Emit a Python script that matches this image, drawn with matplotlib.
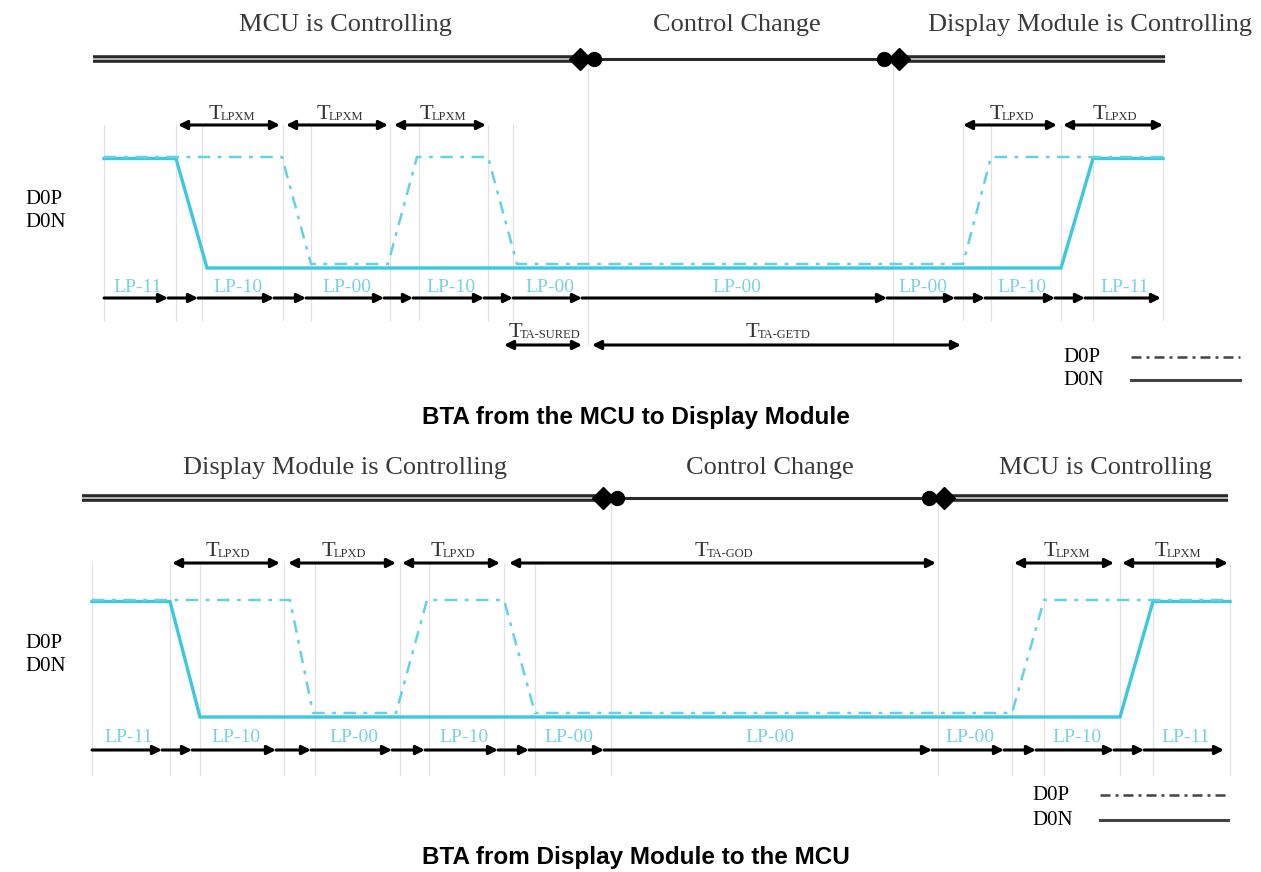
import matplotlib.pyplot as plt

# ---- top diagram: BTA from the MCU to Display Module ----
top_title = 'BTA from the MCU to Display Module'
top_headers = ['MCU is Controlling', 'Control Change', 'Display Module is Controlling']
top_header_x = [345, 737, 1090]
top_bar = [93, 588, 893, 1165]          # start, change begins, change ends, stop
top_d0p_t = [104, 282, 311, 388, 417, 488, 517, 963, 991, 1163]
top_d0p_v = [1, 1, 0, 0, 1, 1, 0, 0, 1, 1]
top_d0n_t = [104, 176, 207, 1061, 1093, 1163]
top_d0n_v = [1, 1, 0, 0, 1, 1]
top_guides = [104, 176, 202, 283, 311, 390, 419, 488, 513, 963, 991, 1061, 1093, 1163]
top_lp_start = [104, 198, 306, 413, 513, 582, 887, 985, 1085]
top_lp_end = [168, 274, 384, 484, 582, 887, 955, 1055, 1161]
top_lp_names = ['LP-11', 'LP-10', 'LP-00', 'LP-10', 'LP-00', 'LP-00', 'LP-00', 'LP-10', 'LP-11']
top_timer_names = ['LPXM', 'LPXM', 'LPXM', 'LPXD', 'LPXD']
top_timer_start = [178, 286, 394, 963, 1063]
top_timer_end = [280, 388, 486, 1057, 1163]
top_ta_names = ['TA-SURED', 'TA-GETD']
top_ta_start = [504, 592]
top_ta_end = [582, 961]

# ---- bottom diagram: BTA from Display Module to the MCU ----
bot_title = 'BTA from Display Module to the MCU'
bot_headers = ['Display Module is Controlling', 'Control Change', 'MCU is Controlling']
bot_header_x = [345, 770, 1105]
bot_bar = [82, 611, 938, 1228]
bot_d0p_t = [92, 290, 313, 396, 427, 504, 535, 1012, 1044, 1230]
bot_d0p_v = [1, 1, 0, 0, 1, 1, 0, 0, 1, 1]
bot_d0n_t = [92, 170, 200, 1120, 1153, 1230]
bot_d0n_v = [1, 1, 0, 0, 1, 1]
bot_guides = [92, 170, 200, 284, 315, 400, 429, 504, 535, 1012, 1044, 1120, 1153, 1230]
bot_lp_start = [92, 192, 311, 425, 529, 604, 932, 1036, 1144]
bot_lp_end = [162, 276, 392, 498, 604, 932, 1004, 1114, 1224]
bot_lp_names = ['LP-11', 'LP-10', 'LP-00', 'LP-10', 'LP-00', 'LP-00', 'LP-00', 'LP-10', 'LP-11']
bot_timer_names = ['LPXD', 'LPXD', 'LPXD', 'TA-GOD', 'LPXM', 'LPXM']
bot_timer_start = [172, 288, 402, 509, 1014, 1122]
bot_timer_end = [280, 396, 500, 936, 1114, 1228]

CYAN = '#3cc8de'
CYAN_P = '#63d2e3'
LP_COL = '#79d3df'
GUIDE = '#e2e2e2'
SERIF = 'Liberation Serif'

fig = plt.figure(figsize=(12.61, 8.72), dpi=100)
ax = fig.add_axes([0, 0, 1, 1])
ax.set_xlim(0, 1261)
ax.set_ylim(872, 0)
ax.axis('off')


def arrow(x0, x1, y, both=False):
    style = '<|-|>' if both else '-|>'
    ax.annotate('', xy=(x1, y), xytext=(x0, y),
                arrowprops=dict(arrowstyle=style, color='black', lw=2.2,
                                mutation_scale=13, shrinkA=0, shrinkB=0))


def timer_label(name, x, y):
    # big T followed by a small subscript
    tw, sw = 12, 7.2 * len(name)
    x0 = x - (tw + sw) / 2
    ax.text(x0, y, 'T', ha='left', va='baseline', fontsize=16, family=SERIF, color='#333333')
    ax.text(x0 + tw, y + 1, name, ha='left', va='baseline', fontsize=9, family=SERIF,
            color='#333333')


def draw_panel(lay, title, headers, header_x, bar, d0p_t, d0p_v, d0n_t, d0n_v,
               guides, lp_start, lp_end, lp_names, t_names, t_start, t_end):
    # guide lines
    for g in guides:
        ax.plot([g, g], [lay['t_arrow'], lay['guide_end']], color=GUIDE, lw=0.9, zorder=0)
    for g in bar[1:3]:
        ax.plot([g, g], [lay['bar'], lay['long_end']], color=GUIDE, lw=0.9, zorder=0)

    # control bar
    for x0, x1 in [(bar[0], bar[1] - 8), (bar[2] + 6, bar[3])]:
        ax.plot([x0, x1], [lay['bar']] * 2, color='#2a2a2a', lw=5.5, solid_capstyle='butt')
        ax.plot([x0, x1], [lay['bar']] * 2, color='#b5b5b5', lw=1.4, solid_capstyle='butt')
    ax.plot([bar[1], bar[2]], [lay['bar']] * 2, color='#2a2a2a', lw=2.2)
    ax.plot([bar[1] - 8], [lay['bar']], marker='D', ms=11, color='black')
    ax.plot([bar[1] + 6], [lay['bar']], marker='o', ms=10, color='black')
    ax.plot([bar[2] - 9], [lay['bar']], marker='o', ms=10, color='black')
    ax.plot([bar[2] + 6], [lay['bar']], marker='D', ms=11, color='black')
    for h, hx in zip(headers, header_x):
        ax.text(hx, lay['header'], h, ha='center', va='center', fontsize=19,
                family=SERIF, color='#3a3a3a')

    # waveforms
    yp = [lay['high'] if v else lay['low_p'] for v in d0p_v]
    yn = [lay['high'] + 1.5 if v else lay['low'] for v in d0n_v]
    ax.plot(d0n_t, yn, color=CYAN, lw=2.4, solid_joinstyle='miter')
    ax.plot(d0p_t, yp, color=CYAN_P, lw=1.8, linestyle=(0, (5, 3, 1.5, 3)))
    ax.text(25, lay['lbl_p'], 'D0P', ha='left', va='center', fontsize=15, family=SERIF)
    ax.text(25, lay['lbl_n'], 'D0N', ha='left', va='center', fontsize=15, family=SERIF)

    # LP state row
    prev = None
    for s, e, n in zip(lp_start, lp_end, lp_names):
        if prev is not None and s > prev:
            arrow(prev, s, lay['row'])
        arrow(s, e, lay['row'])
        ax.text((s + e) / 2 + 2, lay['lp'], n, ha='center', va='center', fontsize=14,
                family=SERIF, color=LP_COL)
        prev = e

    # timers
    for n, s, e in zip(t_names, t_start, t_end):
        arrow(s, e, lay['t_arrow'], both=True)
        timer_label(n, (s + e) / 2, lay['t_label'])

    # legend
    lx0, lx1 = lay['leg_x']
    ax.text(lx0, lay['leg_p'], 'D0P', ha='left', va='center', fontsize=15, family=SERIF)
    ax.text(lx0, lay['leg_n'], 'D0N', ha='left', va='center', fontsize=15, family=SERIF)
    ax.plot([lx0 + 68, lx1], [lay['leg_p']] * 2, color='#444444', lw=1.8,
            linestyle=(0, (4, 2, 1.2, 2)))
    ax.plot([lx0 + 68, lx1], [lay['leg_n']] * 2, color='#444444', lw=2.2)

    ax.text(636, lay['title'], title, ha='center', va='center', fontsize=17.5,
            fontweight='bold', family='Liberation Sans')


top_lay = dict(header=25, bar=59, t_label=119, t_arrow=125, high=157, low=268, low_p=264,
               lbl_p=199, lbl_n=222, lp=287, row=298, guide_end=320, long_end=345,
               leg_x=(1063, 1240), leg_p=357, leg_n=380, title=417)
bot_lay = dict(header=468, bar=498, t_label=556, t_arrow=563, high=600, low=717, low_p=713,
               lbl_p=643, lbl_n=666, lp=737, row=750, guide_end=775, long_end=775,
               leg_x=(1032, 1228), leg_p=795, leg_n=820, title=857)

draw_panel(top_lay, top_title, top_headers, top_header_x, top_bar, top_d0p_t, top_d0p_v,
           top_d0n_t, top_d0n_v, top_guides, top_lp_start, top_lp_end, top_lp_names,
           top_timer_names, top_timer_start, top_timer_end)
for n, s, e in zip(top_ta_names, top_ta_start, top_ta_end):
    arrow(s, e, 345, both=True)
    timer_label(n, (s + e) / 2, 337)

draw_panel(bot_lay, bot_title, bot_headers, bot_header_x, bot_bar, bot_d0p_t, bot_d0p_v,
           bot_d0n_t, bot_d0n_v, bot_guides, bot_lp_start, bot_lp_end, bot_lp_names,
           bot_timer_names, bot_timer_start, bot_timer_end)

fig.savefig('out.png', dpi=100)
